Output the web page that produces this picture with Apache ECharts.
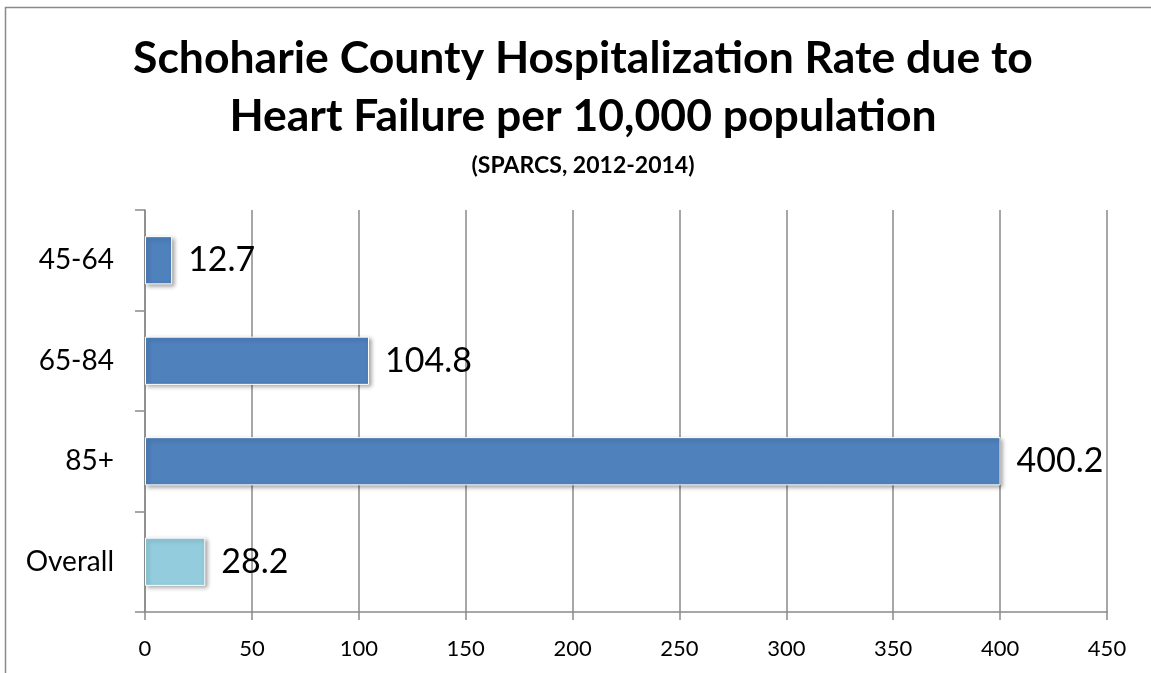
<!DOCTYPE html>
<html>
<head>
<meta charset="utf-8">
<script src="https://cdn.jsdelivr.net/npm/echarts@6/dist/echarts.min.js"></script>
<style>
html,body{margin:0;padding:0;background:#fff;}
#c{width:1151px;height:673px;}
</style>
</head>
<body>
<div id="c"></div>
<script>
const categories = ['45-64', '65-84', '85+', 'Overall'];
const values = [12.7, 104.8, 400.2, 28.2];
const xTicks = [0, 50, 100, 150, 200, 250, 300, 350, 400, 450];
const titleText = 'Schoharie County Hospitalization Rate due to\nHeart Failure per 10,000 population';
const subText = '(SPARCS, 2012-2014)';

const barColors = ['#4F81BD', '#4F81BD', '#4F81BD', '#93CDDD'];
const FONT = 'Lato';

const chart = echarts.init(document.getElementById('c'), null, {renderer: 'canvas'});
chart.setOption({
  backgroundColor: '#fff',
  animation: false,
  title: {
    text: titleText,
    subtext: subText,
    left: 578,
    top: 25,
    textAlign: 'center',
    itemGap: 8,
    textStyle: {fontFamily: FONT, fontWeight: 'bold', fontSize: 44.5, lineHeight: 58, color: '#000'},
    subtextStyle: {fontFamily: FONT, fontWeight: 'bold', fontSize: 23, color: '#000'}
  },
  graphic: [{
    type: 'rect', silent: true,
    shape: {x: 5.5, y: 7.5, width: 1200, height: 1000},
    style: {fill: 'none', stroke: '#8a8a8a', lineWidth: 1.5}
  }],
  grid: {left: 145, right: 44, top: 210, bottom: 61, containLabel: false},
  xAxis: {
    type: 'value', min: 0, max: 450, interval: 50,
    axisLine: {show: true, lineStyle: {color: '#8a8a8a', width: 1.5}},
    axisTick: {show: true, length: 8, lineStyle: {color: '#8a8a8a', width: 1.5}},
    splitLine: {show: true, lineStyle: {color: '#8a8a8a', width: 1.5}},
    axisLabel: {
      fontFamily: FONT, fontSize: 22, color: '#000', margin: 26,
      formatter: v => xTicks.indexOf(v) >= 0 ? String(v) : ''
    }
  },
  yAxis: {
    type: 'category', data: categories, inverse: true,
    axisLine: {show: true, lineStyle: {color: '#8a8a8a', width: 1.5}},
    axisTick: {show: true, length: 10, lineStyle: {color: '#8a8a8a', width: 1.5}},
    axisLabel: {fontFamily: FONT, fontSize: 28, color: '#000', margin: 31}
  },
  series: [{
    type: 'bar',
    barWidth: '48%',
    data: values.map((v, i) => ({value: v, itemStyle: {color: barColors[i]}})),
    itemStyle: {
      borderColor: '#fff', borderWidth: 1,
      shadowColor: 'rgba(0,0,0,0.35)', shadowBlur: 4, shadowOffsetX: 2, shadowOffsetY: 2
    },
    label: {
      show: true, position: 'right', distance: 16,
      fontFamily: FONT, fontSize: 34, color: '#000',
      formatter: p => p.value.toFixed(1)
    }
  }]
});
</script>
</body>
</html>
